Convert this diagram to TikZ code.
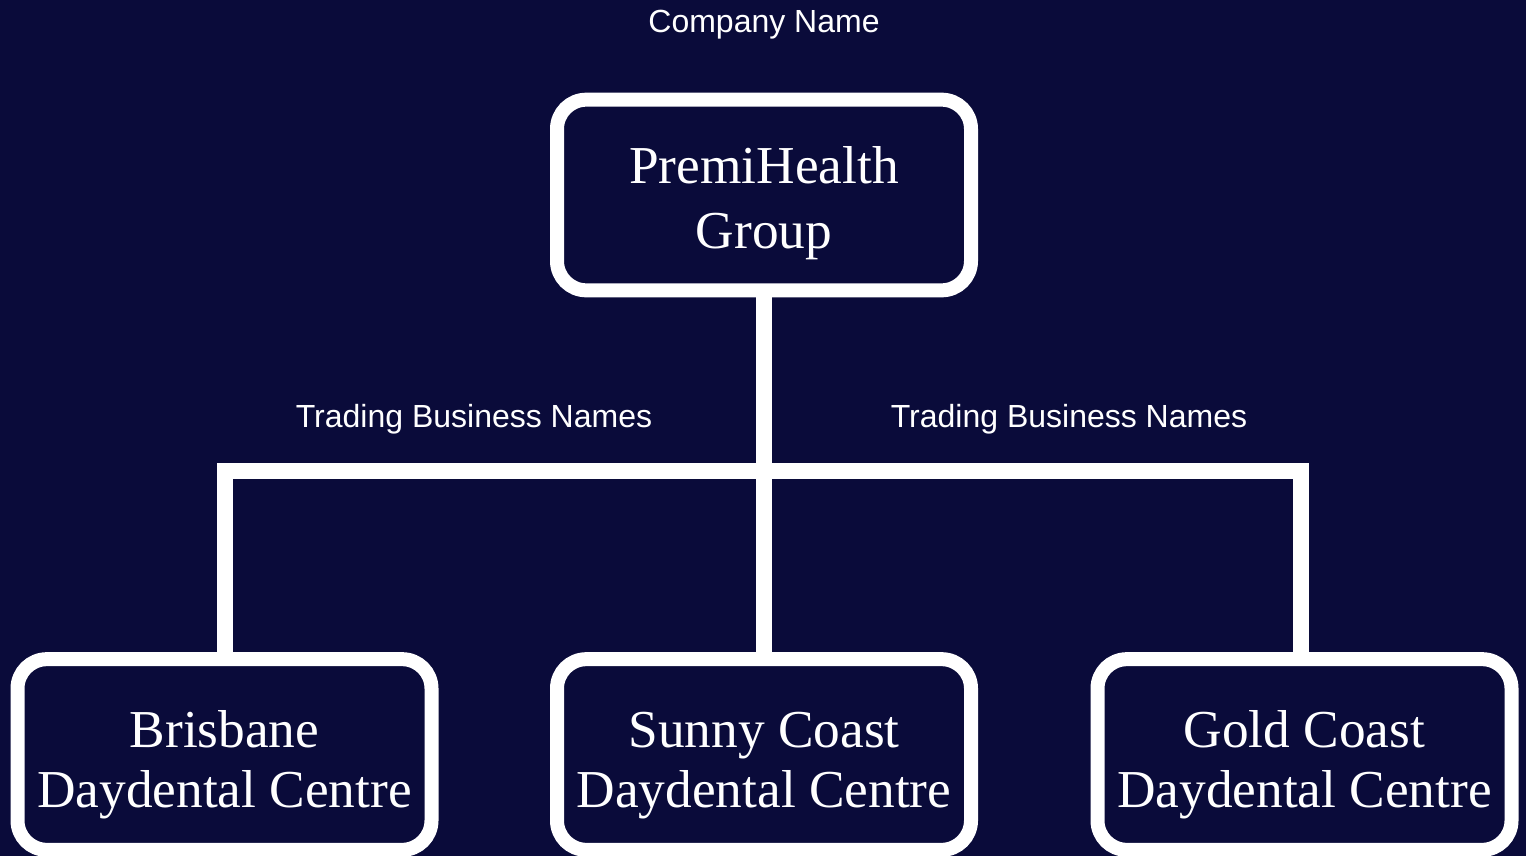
\documentclass[tikz,border=0pt]{standalone}
\usepackage{fontspec}
\setmainfont{Liberation Serif}
\newfontfamily\labelfont{Liberation Sans}
\definecolor{navy}{RGB}{10,11,58}
\tikzset{
  unit/.style={draw=white, line width=10.5pt, rounded corners=22pt, fill=navy,
    text=white, align=center, inner sep=0pt, text height=80pt, text depth=0pt,
    minimum width=310.5pt, minimum height=143pt},
  link/.style={draw=white, line width=12pt},
  tag/.style={text=white, font=\labelfont\fontsize{24}{28}\selectfont}
}
\begin{document}
\begin{tikzpicture}[x=0.75pt,y=-0.75pt]
 \fill[navy] (0,0) rectangle (1526,856);
 \useasboundingbox (0,0) rectangle (1526,856);
 % boxes
 \node[unit, font=\fontsize{40}{48.75}\selectfont] (group) at (764,195) {PremiHealth\\Group};
 \node[unit, font=\fontsize{40}{45}\selectfont] (brisbane) at (224.5,754.5) {Brisbane\\Daydental Centre};
 \node[unit, font=\fontsize{40}{45}\selectfont] (sunny) at (764,754.5) {Sunny Coast\\Daydental Centre};
 \node[unit, font=\fontsize{40}{45}\selectfont] (gold) at (1304.5,754.5) {Gold Coast\\Daydental Centre};
 % labels
 \node[tag] (company) at (764,25) {Company Name};
 \node[tag] (tradeleft) at (474,419) {Trading Business Names};
 \node[tag] (traderight) at (1069,419) {Trading Business Names};
 % connectors
 \coordinate (bar) at (764,471);
 \draw[link] (group.south) -- (sunny.north);
 \draw[link] (brisbane.north) |- (bar) -| ([xshift=-3pt]gold.north);
\end{tikzpicture}
\end{document}
